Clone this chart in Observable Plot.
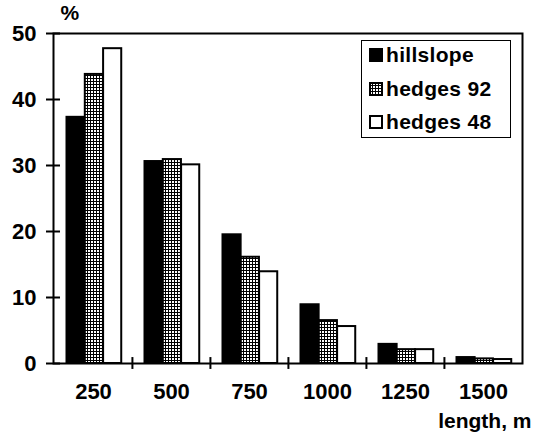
<!DOCTYPE html>
<html>
<head>
<meta charset="utf-8">
<script src="https://cdn.jsdelivr.net/npm/d3@7"></script>
<script src="https://cdn.jsdelivr.net/npm/@observablehq/plot@0.6"></script>
<style>
  html, body { margin: 0; padding: 0; background: #fff; }
  #wrap { position: relative; width: 543px; height: 434px; font-family: "Liberation Sans", Arial, sans-serif; }
  #legend { position: absolute; left: 361px; top: 40px; width: 148px; height: 96px; border: 1.5px solid #000; background: #fff; }
  .row { position: absolute; left: 7px; height: 22px; display: flex; align-items: center; font-weight: bold; font-size: 21px; letter-spacing: 0.3px; color: #000; white-space: nowrap; }
  .row svg { margin-right: 3px; flex: none; }
</style>
</head>
<body>
<div id="wrap"></div>
<script>
const lengths = ["250", "500", "750", "1000", "1250", "1500"];
const series = ["hillslope", "hedges 92", "hedges 48"];
const hillslope = [37.3, 30.6, 19.5, 8.9, 2.9, 0.9];
const hedges92 = [43.8, 30.9, 16.1, 6.5, 2.1, 0.7];
const hedges48 = [47.7, 30.1, 13.9, 5.6, 2.1, 0.6];
const yTicks = [0, 10, 20, 30, 40, 50];

const values = [hillslope, hedges92, hedges48];
const fills = ["#000", "url(#dots)", "#fff"];

const W = 543, H = 434, ML = 53, MR = 21, MT = 33, MB = 71;
const bw = (W - ML - MR) / lengths.length;
const lead = 12.5, barW = 18.3;

const font = "Liberation Sans, Arial, sans-serif";

const barMarks = series.map((s, i) => Plot.barY(
  lengths.map((l, j) => ({length: l, value: values[i][j], series: s})),
  {
    x: "length", y: "value",
    fill: fills[i], stroke: "#000", strokeWidth: 2,
    insetLeft: lead + barW * i,
    insetRight: bw - lead - barW * (i + 1)
  }
));

const defs = () => {
  const d = d3.create("svg:defs");
  const p = d.append("pattern").attr("id", "dots").attr("patternUnits", "userSpaceOnUse")
    .attr("width", 3).attr("height", 3);
  p.append("rect").attr("width", 3).attr("height", 3).attr("fill", "#000");
  p.append("rect").attr("x", 1).attr("y", 1).attr("width", 2).attr("height", 2).attr("fill", "#fff");
  return d.node();
};

const chart = Plot.plot({
  width: W, height: H,
  marginLeft: ML, marginRight: MR, marginTop: MT, marginBottom: MB,
  style: {fontFamily: font, background: "#fff", color: "#000"},
  x: {domain: lengths, padding: 0, label: null},
  y: {domain: [0, 50], label: null},
  marks: [
    defs,
    ...barMarks,
    Plot.frame({stroke: "#000", strokeWidth: 2}),
    Plot.axisY({ticks: yTicks, tickSize: 7, tickPadding: 10, strokeWidth: 2, fontSize: 22, fontWeight: "bold", label: null}),
    Plot.axisY({ticks: yTicks, tickSize: -7, tickFormat: () => "", strokeWidth: 2, label: null}),
    Plot.ruleX(lengths.slice(1), {x: d => d, y1: -0.9, y2: 0.9, dx: -bw / 2, stroke: "#000", strokeWidth: 2}),
    Plot.axisX({tickSize: 0, tickPadding: 20, fontSize: 22, fontWeight: "bold", label: null}),
    Plot.text(["%"], {frameAnchor: "top-left", dx: 7, dy: -28, fontSize: 21, fontWeight: "bold", textAnchor: "start", lineAnchor: "top"}),
    Plot.text(["length, m"], {frameAnchor: "bottom-right", dx: 9, dy: 64, fontSize: 21, fontWeight: "bold", textAnchor: "end", lineAnchor: "bottom"})
  ]
});

const wrap = document.getElementById("wrap");
wrap.appendChild(chart);

const legend = document.createElement("div");
legend.id = "legend";
const swatchSvg = [
  '<svg width="14" height="14"><rect x="0.5" y="0.5" width="13" height="13" fill="#000" stroke="#000"/></svg>',
  '<svg width="14" height="14"><defs><pattern id="dl" patternUnits="userSpaceOnUse" width="3" height="3"><rect width="3" height="3" fill="#000"/><rect x="1" y="1" width="2" height="2" fill="#fff"/></pattern></defs><rect x="1" y="1" width="12" height="12" fill="url(#dl)" stroke="#000" stroke-width="2"/></svg>',
  '<svg width="14" height="14"><rect x="1" y="1" width="12" height="12" fill="#fff" stroke="#000" stroke-width="2"/></svg>'
];
const rowTops = [3, 37, 70];
series.forEach((s, i) => {
  const r = document.createElement("div");
  r.className = "row";
  r.style.top = rowTops[i] + "px";
  r.innerHTML = swatchSvg[i] + "<span>" + s + "</span>";
  legend.appendChild(r);
});
wrap.appendChild(legend);
</script>
</body>
</html>
